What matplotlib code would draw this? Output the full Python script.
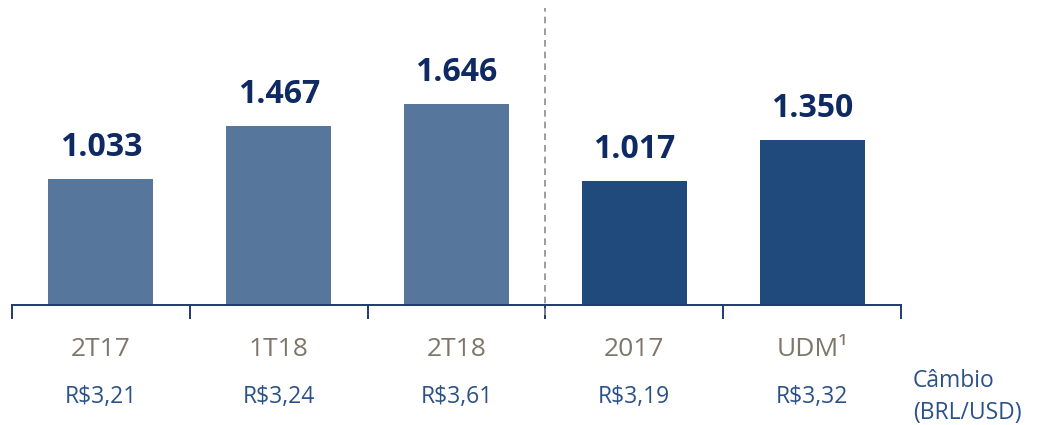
"""Bar chart: values by period with the BRL/USD exchange rate under each bar."""

import matplotlib

matplotlib.use("Agg")
import matplotlib.pyplot as plt
from matplotlib.ticker import FixedLocator, NullFormatter

categories = ["2T17", "1T18", "2T18", "2017", "UDM¹"]
values = [1033, 1467, 1646, 1017, 1350]
value_labels = ["1.033", "1.467", "1.646", "1.017", "1.350"]
fx_labels = ["R$3,21", "R$3,24", "R$3,61", "R$3,19", "R$3,32"]

LIGHT = "#56769c"
DARK = "#214a7c"
NAVY = "#0f2a63"
GREY_TXT = "#7f766b"
BLUE_TXT = "#2b5189"

plt.rcParams["font.family"] = ["Open Sans", "DejaVu Sans"]

fig = plt.figure(figsize=(10.38, 4.25), dpi=100)
ax = fig.add_axes([12 / 1038, 120 / 425, 889 / 1038, 305 / 425])

x = list(range(len(categories)))
colors = [LIGHT, LIGHT, LIGHT, DARK, DARK]
ax.bar(x, values, width=0.59, color=colors)

for xi, v, lab in zip(x, values, value_labels):
    ax.annotate(lab, (xi, v), xytext=(0, 11), textcoords="offset points",
                ha="center", va="bottom", fontsize=23, fontweight="bold", color=NAVY)

ax.set_xlim(-0.5, 4.5)
ax.set_ylim(0, 2500)
ax.set_yticks([])
for s in ("top", "right", "left"):
    ax.spines[s].set_visible(False)
ax.spines["bottom"].set_color("#1f3a6e")
ax.spines["bottom"].set_linewidth(1.4)

# boundary ticks (minor) and category labels (major, no tick)
ax.xaxis.set_minor_locator(FixedLocator([i - 0.5 for i in range(len(categories) + 1)]))
ax.xaxis.set_minor_formatter(NullFormatter())
ax.tick_params(axis="x", which="minor", length=10, width=1.4, color="#1f3a6e", direction="out")
ax.set_xticks(x)
ax.set_xticklabels(categories, fontsize=19, color=GREY_TXT)
ax.tick_params(axis="x", which="major", length=0, pad=23)

trans = ax.get_xaxis_transform()
for xi, lab in zip(x, fx_labels):
    ax.text(xi, -0.301, lab, transform=trans, ha="center", va="center",
            fontsize=16.5, color=BLUE_TXT)

fig.text(913 / 1038, 1 - 381 / 425, "Câmbio", ha="left", va="center",
         fontsize=16.5, color=BLUE_TXT)
fig.text(913 / 1038, 1 - 413 / 425, "(BRL/USD)", ha="left", va="center",
         fontsize=16.5, color=BLUE_TXT)

# separator between quarters and years
ax.axvline(2.5, ymin=-0.033, ymax=0.974, color="#8c8c8c", linewidth=1.2,
           linestyle=(0, (4, 3)), clip_on=False)

fig.savefig("out.png", dpi=100)
